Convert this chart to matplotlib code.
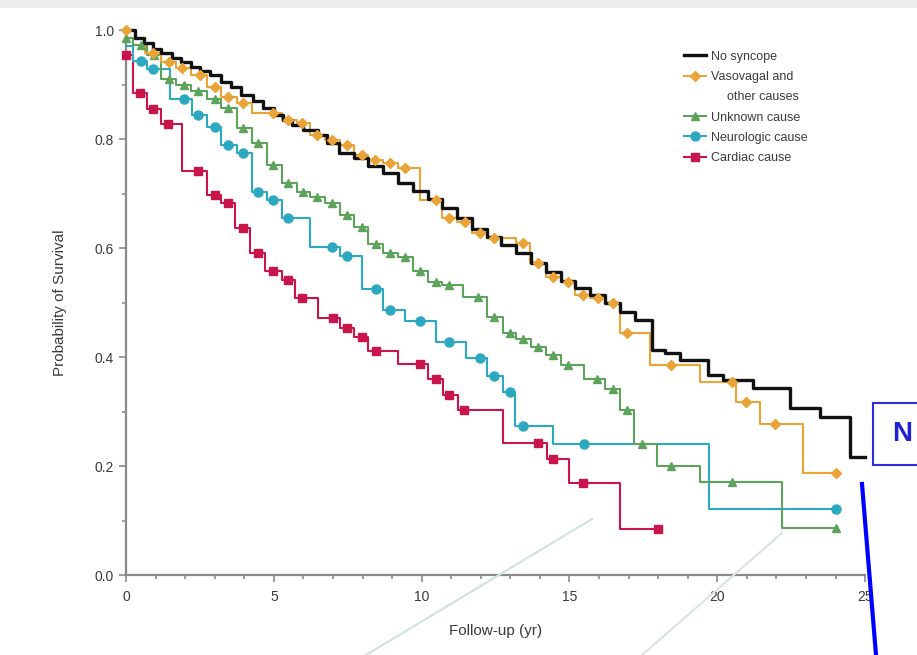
import numpy as np
import matplotlib.pyplot as plt
from matplotlib.lines import Line2D
from matplotlib.patches import Rectangle

# Kaplan-Meier steps: time of each drop (yr) and value after it,
# last entry repeats the final value at the end of follow-up
t_none = [0, 0.3, 0.6, 0.9, 1.2, 1.55, 1.85, 2.2, 2.5, 2.85, 3.2, 3.55, 3.9, 4.3, 4.65,
          5.0, 5.3, 5.6, 6.0, 6.5, 6.8, 7.2, 7.7, 8.2, 8.7, 9.2, 9.7, 10.2, 10.7, 11.2,
          11.7, 12.2, 12.7, 13.2, 13.7, 14.2, 14.7, 15.2, 15.7, 16.2, 16.7, 17.22, 17.78,
          18.23, 18.74, 19.7, 20.2, 21.2, 22.46, 23.48, 24.5, 25.0]
s_none = [1.0, 0.985, 0.976, 0.966, 0.957, 0.949, 0.942, 0.933, 0.924, 0.917, 0.905, 0.896,
          0.881, 0.869, 0.857, 0.844, 0.835, 0.826, 0.817, 0.807, 0.793, 0.775, 0.765, 0.75,
          0.737, 0.72, 0.705, 0.69, 0.673, 0.655, 0.635, 0.62, 0.605, 0.59, 0.573, 0.556,
          0.54, 0.527, 0.514, 0.5, 0.483, 0.468, 0.413, 0.407, 0.394, 0.367, 0.358, 0.343,
          0.306, 0.29, 0.217, 0.217]

t_vaso = [0, 0.3, 0.65, 1.2, 1.7, 2.2, 2.73, 3.23, 3.74, 4.25, 5.26, 5.77, 6.22, 6.72, 7.24,
          7.72, 8.2, 8.7, 9.2, 9.95, 10.7, 11.2, 11.7, 12.2, 13.2, 13.67, 14.2, 14.7, 15.2,
          15.7, 16.2, 16.7, 17.72, 19.4, 20.65, 21.45, 22.9, 24.0]
s_vaso = [1.0, 0.985, 0.957, 0.942, 0.93, 0.917, 0.896, 0.878, 0.866, 0.848, 0.835, 0.829,
          0.807, 0.798, 0.789, 0.771, 0.761, 0.756, 0.747, 0.688, 0.655, 0.648, 0.627, 0.618,
          0.609, 0.572, 0.547, 0.538, 0.514, 0.508, 0.499, 0.444, 0.385, 0.355, 0.318, 0.278,
          0.187, 0.187]
m_vaso = [0, 0.9, 1.45, 1.9, 2.5, 3.0, 3.46, 3.96, 4.97, 5.48, 5.94, 6.45, 6.96, 7.47, 7.97,
          8.42, 8.93, 9.44, 10.47, 10.92, 11.47, 11.98, 12.45, 13.42, 13.94, 14.45, 14.95,
          15.46, 15.97, 16.47, 16.95, 18.45, 20.5, 20.97, 21.95, 24.0]

t_unk = [0, 0.25, 0.7, 1.2, 1.7, 2.2, 2.73, 3.23, 3.74, 4.25, 4.76, 5.26, 5.77, 6.22, 6.72,
         7.24, 7.72, 8.2, 8.7, 9.2, 9.71, 10.2, 10.7, 11.4, 12.2, 12.76, 13.2, 13.7, 14.2,
         14.7, 15.5, 16.2, 16.7, 17.2, 17.95, 19.4, 22.2, 24.0]
s_unk = [0.985, 0.972, 0.955, 0.911, 0.899, 0.889, 0.873, 0.857, 0.82, 0.792, 0.752, 0.719,
         0.703, 0.694, 0.683, 0.66, 0.639, 0.607, 0.59, 0.584, 0.557, 0.538, 0.532, 0.511,
         0.473, 0.444, 0.433, 0.419, 0.404, 0.385, 0.36, 0.341, 0.303, 0.24, 0.2, 0.171,
         0.086, 0.086]
m_unk = [0, 0.5, 0.95, 1.45, 1.97, 2.45, 3.0, 3.46, 3.96, 4.47, 4.97, 5.48, 6.0, 6.46, 6.97,
         7.47, 7.97, 8.46, 8.93, 9.44, 9.95, 10.47, 10.92, 11.9, 12.45, 13.0, 13.42, 13.94,
         14.45, 14.95, 15.94, 16.47, 16.95, 17.45, 18.45, 20.5, 24.0]

t_neuro = [0, 0.25, 0.7, 1.49, 2.22, 2.73, 3.23, 3.74, 4.25, 4.76, 5.26, 6.22, 7.24, 7.97,
           8.7, 9.44, 10.5, 11.5, 12.2, 12.76, 13.16, 14.45, 19.73, 24.0]
s_neuro = [0.97, 0.944, 0.928, 0.873, 0.844, 0.822, 0.789, 0.774, 0.703, 0.688, 0.656, 0.602,
           0.585, 0.524, 0.486, 0.467, 0.428, 0.398, 0.365, 0.336, 0.274, 0.240, 0.121, 0.121]
m_neuro = [0.5, 0.9, 1.95, 2.45, 3.0, 3.45, 3.96, 4.47, 4.97, 5.48, 6.97, 7.47, 8.46, 8.93,
           9.95, 10.92, 11.98, 12.45, 13.0, 13.42, 15.5, 24.0]

t_card = [0, 0.25, 0.7, 1.2, 1.88, 2.73, 3.23, 3.69, 4.2, 4.7, 5.26, 5.72, 6.5, 7.24, 7.72,
          8.2, 9.2, 10.2, 10.73, 11.24, 12.75, 14.23, 15.0, 16.7, 18.0]
s_card = [0.955, 0.884, 0.855, 0.828, 0.742, 0.697, 0.683, 0.637, 0.591, 0.558, 0.541, 0.508,
          0.472, 0.454, 0.437, 0.412, 0.387, 0.359, 0.330, 0.303, 0.243, 0.213, 0.169, 0.084,
          0.084]
m_card = [0, 0.47, 0.9, 1.43, 2.45, 3.0, 3.46, 3.96, 4.45, 4.97, 5.48, 5.95, 7.0, 7.47, 7.97,
          8.45, 9.95, 10.47, 10.92, 11.43, 13.94, 14.45, 15.46, 18.0]

labels = ["No syncope", "Vasovagal and", "other causes", "Unknown cause",
          "Neurologic cause", "Cardiac cause"]
x_ticks = [0, 5, 10, 15, 20, 25]
y_ticks = [0.0, 0.2, 0.4, 0.6, 0.8, 1.0]

plt.rcParams['font.family'] = ['Liberation Sans', 'DejaVu Sans']

c_none = "#111111"
c_vaso = "#E9A336"
c_unk = "#5EA35C"
c_neuro = "#2CA8C0"
c_card = "#C8164C"
grey = "#8a8a8a"
txt = "#3a3a3a"


def marks_at(t, s, tm):
    idx = np.searchsorted(np.array(t), np.array(tm), side='right') - 1
    return np.array(s)[idx]


fig = plt.figure(figsize=(9.17, 6.55), dpi=100)
ax = fig.add_axes([0.1374, 0.1221, 0.806, 0.832])

series = [
    (t_card, s_card, m_card, c_card, 's', 5.5),
    (t_neuro, s_neuro, m_neuro, c_neuro, 'o', 6.5),
    (t_unk, s_unk, m_unk, c_unk, '^', 6),
    (t_vaso, s_vaso, m_vaso, c_vaso, 'D', 5),
]
for t, s, m, col, mk, ms in series:
    ax.step(t, s, where='post', color=col, lw=1.5, clip_on=False, zorder=3)
ax.step(t_none, s_none, where='post', color=c_none, lw=2.4, clip_on=False, zorder=4)
for t, s, m, col, mk, ms in series:
    ax.plot(m, marks_at(t, s, m), ls='none', marker=mk, ms=ms, color=col,
            mec=col, clip_on=False, zorder=5)

ax.set_xlim(0, 25)
ax.set_ylim(0, 1.0)
ax.set_xticks(x_ticks)
ax.set_xticks(np.arange(0, 26, 1), minor=True)
ax.set_yticks(y_ticks)
ax.set_yticks(np.arange(0, 1.01, 0.1), minor=True)
ax.set_yticklabels(["%.1f" % v for v in y_ticks])
for side in ['top', 'right']:
    ax.spines[side].set_visible(False)
for side in ['left', 'bottom']:
    ax.spines[side].set_color(grey)
    ax.spines[side].set_linewidth(1.6)
ax.tick_params(which='both', direction='out', color=grey, width=1.2,
               labelsize=10, labelcolor=txt)
ax.tick_params(which='major', length=5)
ax.tick_params(which='minor', length=3)
ax.tick_params(axis='x', pad=6)
ax.set_xlabel("Follow-up (yr)", fontsize=11, color=txt, labelpad=14)
ax.set_ylabel("Probability of Survival", fontsize=11, color=txt, labelpad=20)

# legend: second line of the vasovagal label sits on its own row without a handle
handles = [Line2D([], [], color=c_none, lw=2.4),
           Line2D([], [], color=c_vaso, lw=1.5, marker='D', ms=5, mec=c_vaso),
           Line2D([], [], color='none'),
           Line2D([], [], color=c_unk, lw=1.5, marker='^', ms=6, mec=c_unk),
           Line2D([], [], color=c_neuro, lw=1.5, marker='o', ms=6.5, mec=c_neuro),
           Line2D([], [], color=c_card, lw=1.5, marker='s', ms=5.5, mec=c_card)]
leg = fig.legend(handles, labels, loc='upper left', bbox_to_anchor=(0.739, 0.932),
                 frameon=False, fontsize=9, handlelength=1.75, handletextpad=0.45,
                 labelspacing=0.66, borderpad=0)
for i, tx in enumerate(leg.get_texts()):
    tx.set_color(txt)
    if i == 2:
        tx.set_position((16, 0))

# screenshot decorations around the chart
fig.add_artist(Rectangle((0, 0.988), 1, 0.012, transform=fig.transFigure,
                         color="#ececec", lw=0))
fig.add_artist(Line2D([592 / 917, 366 / 917], [1 - 519 / 655, 0], transform=fig.transFigure,
                      color="#cfe2df", lw=1.5))
fig.add_artist(Line2D([782 / 917, 642 / 917], [1 - 533 / 655, 0], transform=fig.transFigure,
                      color="#d8e4e2", lw=1.5))
fig.add_artist(Line2D([862 / 917, 876 / 917], [1 - 484 / 655, 0], transform=fig.transFigure,
                      color="#0000ff", lw=3))
fig.add_artist(Rectangle((873 / 917, 1 - 465 / 655), 0.06, 62 / 655, transform=fig.transFigure,
                         facecolor="white", edgecolor="#2d2de0", lw=1.5))
fig.text(892 / 917, 1 - 434 / 655, "N", color="#2020d0", fontsize=20, fontweight='bold',
         va='center', ha='left')

fig.savefig("out.png", dpi=100)
